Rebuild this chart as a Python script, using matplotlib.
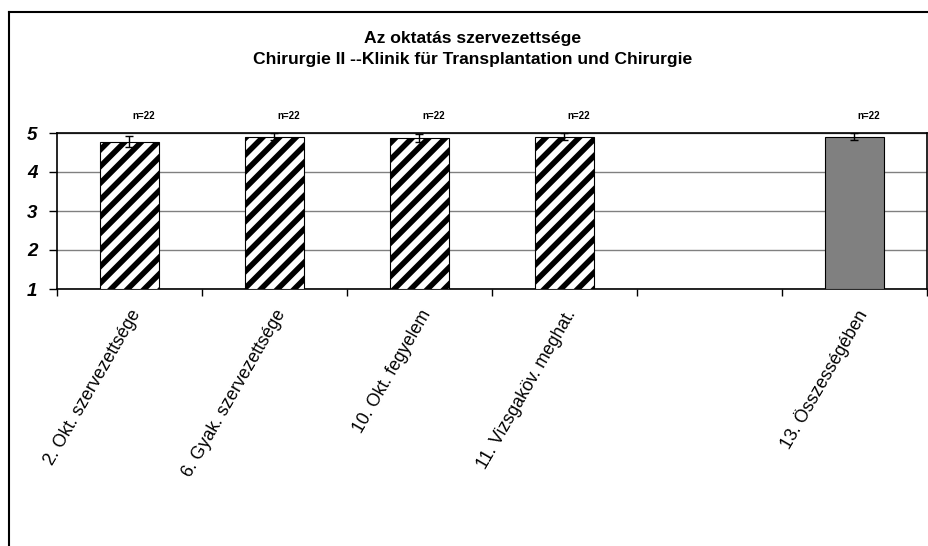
import matplotlib.pyplot as plt
from matplotlib.lines import Line2D

plt.rcParams['font.family'] = ['Liberation Sans', 'DejaVu Sans']
plt.rcParams['hatch.linewidth'] = 4.0

# data
categories = ["2. Okt. szervezettsége", "6. Gyak. szervezettsége", "10. Okt. fegyelem",
              "11. Vizsgaköv. meghat.", "", "13. Összességében"]
means = [4.78, 4.91, 4.87, 4.91, None, 4.91]
errors = [0.14, 0.09, 0.1, 0.09, None, 0.1]
counts = ["n=22", "n=22", "n=22", "n=22", "", "n=22"]

W, H = 929, 546
fig = plt.figure(figsize=(W / 100, H / 100), dpi=100)
ax = fig.add_axes([57 / W, 1 - 289 / H, (927 - 57) / W, (289 - 133) / H])

# frame around the chart (cropped, so only left and top show)
fig.add_artist(Line2D([9 / W, 9 / W], [0, 1 - 12 / H], color='black', lw=1.5, transform=fig.transFigure))
fig.add_artist(Line2D([9 / W, 1], [1 - 12 / H, 1 - 12 / H], color='black', lw=1.5, transform=fig.transFigure))

for i, (m, e) in enumerate(zip(means, errors)):
    if m is None:
        continue
    x = i + 0.5
    if i == len(means) - 1:
        ax.bar(x, m - 1, bottom=1, width=0.41, color='#808080', edgecolor='black', lw=0.8, zorder=3)
    else:
        ax.bar(x, m - 1, bottom=1, width=0.41, color='white', edgecolor='black', hatch='//', lw=0.8, zorder=3)
    ax.errorbar(x, m, yerr=e, color='black', capsize=3, lw=1, capthick=1, zorder=4)
    ax.text(x + 0.1, 5.3, counts[i], ha='center', va='bottom', fontsize=7, fontweight='bold')

ax.set_xlim(0, len(categories))
ax.set_ylim(1, 5)
ax.set_yticks([1, 2, 3, 4, 5])
ax.set_yticklabels(['1', '2', '3', '4', '5'], fontsize=13.5, fontweight='bold', fontstyle='italic')
ax.set_xticks(range(len(categories) + 1))
ax.set_xticklabels([])
ax.set_xticks([i + 0.5 for i in range(len(categories))], minor=True)
ax.set_xticklabels(categories, minor=True, rotation=60, ha='right', va='top',
                   rotation_mode='anchor', fontsize=12.8)
ax.tick_params(axis='x', which='minor', length=0, pad=13)
ax.tick_params(axis='x', which='major', length=5, width=1, direction='out')
ax.tick_params(axis='y', length=6, width=1, direction='out', pad=8)
ax.yaxis.grid(True, color='#808080', lw=1, zorder=0)
ax.set_axisbelow(True)
for s in ax.spines.values():
    s.set_color('black')
    s.set_linewidth(1.2)

fig.text(473 / W, 1 - 38 / H, "Az oktatás szervezettsége", ha='center', va='center',
         fontsize=12.6, fontweight='bold')
fig.text(473 / W, 1 - 59 / H, "Chirurgie II --Klinik für Transplantation und Chirurgie", ha='center', va='center',
         fontsize=12.6, fontweight='bold')

fig.savefig('out.png', dpi=100)
